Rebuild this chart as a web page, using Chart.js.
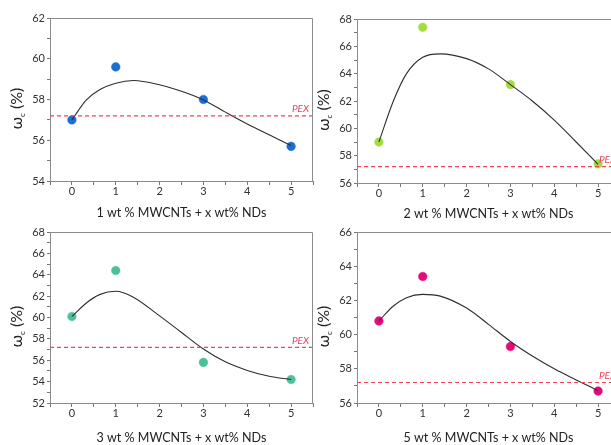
<!DOCTYPE html>
<html>
<head>
<meta charset="utf-8">
<script src="https://cdn.jsdelivr.net/npm/chart.js@4"></script>
<style>
  html, body { margin: 0; padding: 0; background: #fff; overflow: hidden; width: 611px; height: 445px; }
  canvas { position: absolute; }
</style>
</head>
<body>
<canvas id="c1" width="320" height="222" style="left:0;top:0"></canvas>
<canvas id="c2" width="320" height="222" style="left:307px;top:1px"></canvas>
<canvas id="c3" width="320" height="225" style="left:0;top:220px"></canvas>
<canvas id="c4" width="320" height="225" style="left:307px;top:220px"></canvas>
<script>
// x values (wt% NDs)
const ndContent = [0, 1, 3, 5]

// measured critical values, one list per MWCNT loading
const wc1 = [57.0, 59.6, 58.0, 55.7]
const wc2 = [59.0, 67.4, 63.2, 57.4]
const wc3 = [60.1, 64.4, 55.8, 54.2]
const wc5 = [60.8, 63.4, 59.3, 56.7]

// fitted curves
const fitX = [0, 0.33, 0.63, 1, 1.4, 2, 2.5, 3, 3.5, 4, 4.5, 5]
const fit1 = [57.0, 57.98, 58.48, 58.8, 58.93, 58.72, 58.4, 57.98, 57.38, 56.8, 56.27, 55.74]
const fit2 = [59.0, 62.0, 64.0, 65.2, 65.45, 65.1, 64.35, 63.2, 62.0, 60.6, 59.0, 57.36]
const fit3 = [60.1, 61.36, 62.14, 62.45, 61.9, 60.15, 58.6, 57.05, 55.85, 55.05, 54.5, 54.2]
const fit5 = [60.8, 61.67, 62.16, 62.35, 62.25, 61.55, 60.6, 59.6, 58.75, 58.0, 57.35, 56.72]

const pexValue = 57.2

const titles = [
  '1 wt % MWCNTs + x wt% NDs',
  '2 wt % MWCNTs + x wt% NDs',
  '3 wt % MWCNTs + x wt% NDs',
  '5 wt % MWCNTs + x wt% NDs'
]
const yRanges = [[54, 62], [56, 68], [52, 68], [56, 66]]
const colors = ['#1b6fd6', '#a4dc3e', '#4cc197', '#e6097c']

const fontName = 'Lato, "Open Sans", sans-serif'

const extras = {
  id: 'extras',
  afterDraw(chart) {
    const ctx = chart.ctx
    const a = chart.chartArea
    ctx.save()
    // top and right frame lines
    ctx.strokeStyle = '#8c8c8c'
    ctx.lineWidth = 1
    ctx.beginPath()
    ctx.moveTo(a.left, a.top + 0.5)
    ctx.lineTo(a.right - 0.5, a.top + 0.5)
    ctx.lineTo(a.right - 0.5, a.bottom)
    ctx.stroke()

    // PEX label
    const py = chart.scales.y.getPixelForValue(pexValue)
    ctx.fillStyle = '#f0405c'
    ctx.font = 'italic 10px ' + fontName
    ctx.textAlign = 'right'
    ctx.textBaseline = 'bottom'
    ctx.fillText('PEX', a.right - 4, py - 2)

    // y title: omega with subscript c
    const cx = 17
    const cy = (a.top + a.bottom) / 2 + 9
    ctx.translate(cx, cy)
    ctx.rotate(-Math.PI / 2)
    ctx.fillStyle = '#222'
    ctx.textBaseline = 'middle'
    ctx.textAlign = 'left'
    const big = '16px ' + fontName
    const small = '8px ' + fontName
    ctx.font = big
    const w1 = ctx.measureText('ω').width
    const w3 = ctx.measureText(' (%)').width
    ctx.font = small
    const w2 = ctx.measureText('c').width
    let x = -(w1 + w2 + w3) / 2
    ctx.font = big
    ctx.fillText('ω', x, 0)
    x += w1
    ctx.font = small
    ctx.fillText('c', x, 5)
    x += w2
    ctx.font = big
    ctx.fillText(' (%)', x, 0)
    ctx.restore()
  }
}

function makeChart(id, values, fit, idx, top, xHeight, titlePad) {
  const pts = ndContent.map((v, i) => ({x: v, y: values[i]}))
  const curve = fitX.map((v, i) => ({x: v, y: fit[i]}))
  const pex = [{x: -0.5, y: pexValue}, {x: 5.5, y: pexValue}]
  const ctx = document.getElementById(id).getContext('2d')
  return new Chart(ctx, {
    type: 'scatter',
    data: {
      datasets: [
        {
          data: pex,
          showLine: true,
          borderColor: '#f2455c',
          borderWidth: 1.2,
          borderDash: [4, 3],
          pointRadius: 0
        },
        {
          data: curve,
          showLine: true,
          borderColor: '#2e2e2e',
          borderWidth: 1.1,
          cubicInterpolationMode: 'monotone',
          pointRadius: 0
        },
        {
          data: pts,
          pointRadius: 4.3,
          pointBackgroundColor: colors[idx],
          pointBorderColor: colors[idx],
          pointBorderWidth: 0.5
        }
      ]
    },
    options: {
      responsive: false,
      animation: false,
      layout: {padding: {top: top, right: 7, bottom: 0, left: 0}},
      plugins: {legend: {display: false}, tooltip: {enabled: false}},
      scales: {
        x: {
          type: 'linear',
          min: -0.5,
          max: 5.5,
          afterFit: s => { s.height = xHeight },
          grid: {drawOnChartArea: false, drawTicks: true, tickLength: 4, color: '#777'},
          border: {color: '#8c8c8c'},
          ticks: {
            stepSize: 0.5,
            autoSkip: false,
            maxRotation: 0,
            padding: 0,
            color: '#333',
            font: {family: fontName, size: 11},
            callback: v => Number.isInteger(v) && v >= 0 ? v : ''
          },
          title: {
            display: true,
            text: titles[idx],
            color: '#222',
            font: {family: fontName, size: 12.5},
            padding: {top: 0, bottom: titlePad}
          }
        },
        y: {
          min: yRanges[idx][0],
          max: yRanges[idx][1],
          afterFit: s => { s.width = 50 },
          grid: {drawOnChartArea: false, drawTicks: true, tickLength: 3, color: '#777'},
          border: {color: '#8c8c8c'},
          ticks: {
            stepSize: 1,
            autoSkip: false,
            padding: 2,
            color: '#333',
            font: {family: fontName, size: 11},
            callback: v => v % 2 === 0 ? v : ''
          }
        }
      }
    },
    plugins: [extras]
  })
}

makeChart('c1', wc1, fit1, 0, 18, 41, 2)
makeChart('c2', wc2, fit2, 1, 18, 40, 2)
makeChart('c3', wc3, fit3, 2, 12, 42, 0)
makeChart('c4', wc5, fit5, 3, 12, 42, 0)
</script>
</body>
</html>
